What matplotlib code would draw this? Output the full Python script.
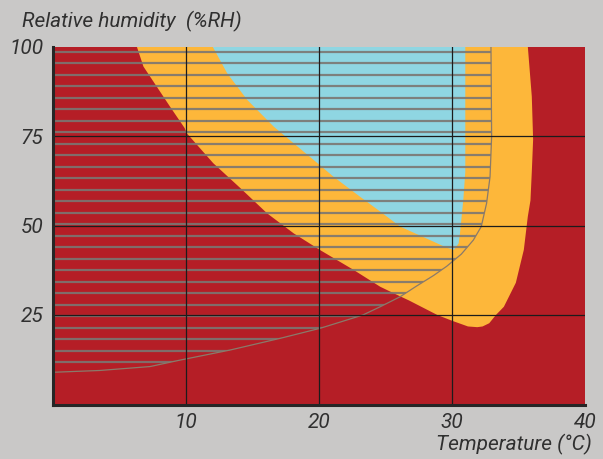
import numpy as np
import matplotlib
matplotlib.use("Agg")
import matplotlib.pyplot as plt
from matplotlib.patches import Polygon

plt.rcParams['font.family'] = ['Roboto', 'DejaVu Sans']

# colours
BG = '#c9c8c7'
RED = '#b51e26'
YELLOW = '#fdb73a'
BLUE = '#8fd6e2'
HATCH = '#7b7772'
INK = '#303030'

# axis ticks
x_ticks = [10, 20, 30, 40]
y_ticks = [25, 50, 75, 100]

# yellow zone outline (temperature, %RH)
yellow_t = [6.3, 35.7, 36.0, 36.1, 36.0, 35.9, 35.7, 35.4, 34.8, 33.9, 33.3, 32.8, 32.3, 31.9,
            31.2, 30.0, 28.9, 26.8, 25.6, 24.6, 22.6, 20.1, 18.1, 16.1, 14.1, 12.05, 10.05, 9.9,
            8.8, 7.8, 6.8]
yellow_rh = [100, 100, 86, 74, 65, 57, 52.5, 43.2, 34, 27.3, 25.0, 22.7, 21.8, 21.6,
             21.8, 23.4, 25.0, 29.0, 31.1, 32.9, 37.6, 43.1, 47.8, 53.4, 60.4, 67.4, 75.8, 77.2,
             83.2, 88.8, 94.4]

# blue zone outline
blue_t = [12.0, 13.1, 14.6, 16.6, 19.6, 21.1, 23.1, 24.6, 26.1, 28.6, 29.6, 30.15,
          30.5, 30.6, 30.85, 31.0, 31.0]
blue_rh = [100, 92.5, 85.1, 77.6, 68.3, 63.6, 58.0, 53.9, 49.7, 45.5, 43.8, 43.2,
           45.0, 47.8, 57.1, 65, 100]

# hatched zone boundary curve
curve_t = [0, 3.5, 7.3, 9.55, 13.3, 17.1, 20.1, 23.3, 24.6, 26.1, 27.3, 28.6, 29.6, 30.7, 31.6,
           32.2, 32.6, 32.86, 32.98, 32.93]
curve_rh = [9.0, 9.5, 10.6, 12.4, 15.2, 18.5, 21.3, 25.0, 27.3, 30.1, 33.0, 36.0, 38.6, 42.0, 45.9,
            49.7, 56.2, 63.6, 74.8, 100]

fig = plt.figure(figsize=(6.03, 4.59), dpi=100, facecolor=BG)
ax = fig.add_axes([53 / 603, 1 - 404.5 / 459, 532 / 603, 358 / 459])
ax.set_facecolor(RED)
ax.set_xlim(0, 40)
ax.set_ylim(0, 100)

ax.fill(yellow_t, yellow_rh, color=YELLOW, lw=0, zorder=1)
ax.fill(blue_t, blue_rh, color=BLUE, lw=0, zorder=1)

# hatched area: horizontal lines clipped to the area above/left of the curve
clip = Polygon(list(zip(curve_t, curve_rh)) + [(0, 100)], closed=True,
               facecolor='none', edgecolor='none', transform=ax.transData)
ax.add_patch(clip)
levels = np.linspace(98.5, 11.8, 28)
lines = ax.hlines(levels, 0, 40, colors=HATCH, linewidth=1.6, alpha=0.9, zorder=2)
lines.set_clip_path(clip)
ax.plot(curve_t, curve_rh, color='#8a7a6a', lw=0.9, zorder=3)

# grid
for t in x_ticks[:-1]:
    ax.axvline(t, color='#1c1c1c', lw=0.9, zorder=4)
for h in y_ticks[:-1]:
    ax.axhline(h, color='#1c1c1c', lw=0.9, zorder=4)

ax.set_xticks(x_ticks)
ax.set_yticks(y_ticks)
ax.tick_params(length=0, labelsize=15, labelcolor=INK)
ax.tick_params(axis='x', pad=6)
ax.tick_params(axis='y', pad=7)
for lab in ax.get_xticklabels() + ax.get_yticklabels():
    lab.set_style('italic')

for s in ['top', 'right']:
    ax.spines[s].set_visible(False)
for s in ['left', 'bottom']:
    ax.spines[s].set_color('#262626')
    ax.spines[s].set_linewidth(2.2)
    ax.spines[s].set_zorder(5)

fig.text(22 / 603, 1 - 27 / 459, 'Relative humidity  (%RH)', ha='left', va='baseline',
         fontsize=15, style='italic', color=INK)
fig.text(592 / 603, 1 - 450 / 459, 'Temperature (°C)', ha='right', va='baseline',
         fontsize=15, style='italic', color=INK)

fig.savefig('out.png', dpi=100, facecolor=BG)
